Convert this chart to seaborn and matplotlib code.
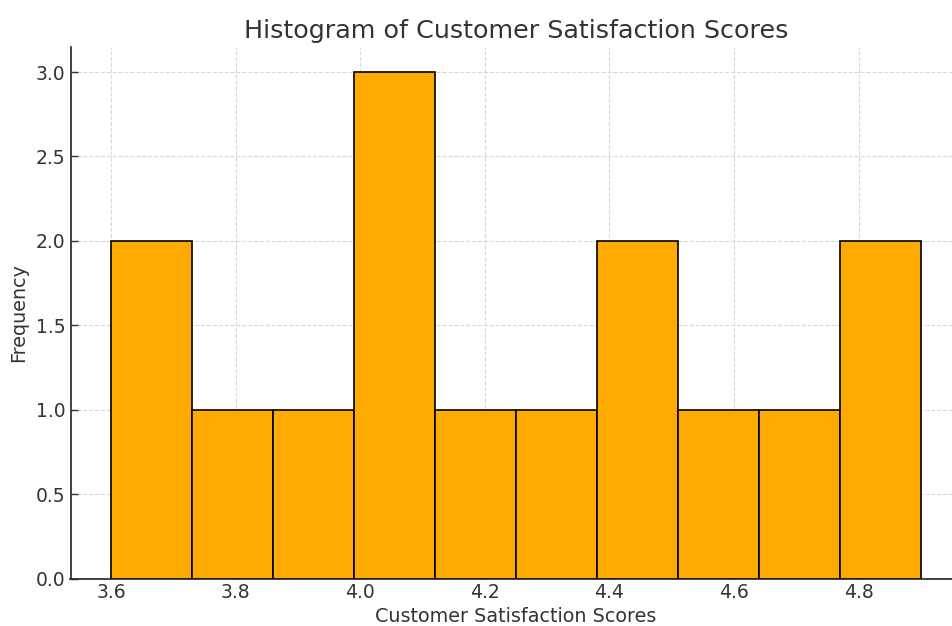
import matplotlib
matplotlib.use("Agg")
import matplotlib.pyplot as plt
import seaborn as sns
import numpy as np

scores = [4.5, 4.0, 3.8, 4.2, 4.8, 3.6, 4.1, 4.4, 4.7, 3.9, 4.05, 4.3, 4.9, 3.7, 4.6]
n_bins = 10
title = "Histogram of Customer Satisfaction Scores"
xlabel = "Customer Satisfaction Scores"
ylabel = "Frequency"

sns.set_style("white")
plt.rcParams['font.family'] = ['DejaVu Sans']
plt.rcParams['text.color'] = '#333333'
plt.rcParams['axes.labelcolor'] = '#333333'
plt.rcParams['xtick.color'] = '#333333'
plt.rcParams['ytick.color'] = '#333333'

fig = plt.figure(figsize=(9.52, 6.26), dpi=100)
ax = fig.add_axes([70.5/952, 47.5/626, 891/952, 531.8/626])

sns.histplot(x=scores, bins=n_bins, color='#FFAA00', edgecolor='black',
             linewidth=1.2, alpha=1.0, ax=ax)

ax.set_title(title, fontsize=18.3, color='#333333', pad=6)
ax.set_xlabel(xlabel, fontsize=13.8, labelpad=3)
ax.set_ylabel(ylabel, fontsize=13.8, labelpad=6)
ax.set_yticks([0, 0.5, 1.0, 1.5, 2.0, 2.5, 3.0])
ax.set_xticks([3.6, 3.8, 4.0, 4.2, 4.4, 4.6, 4.8])
ax.yaxis.set_major_formatter(matplotlib.ticker.FormatStrFormatter('%.1f'))
ax.tick_params(axis='both', direction='in', labelsize=13.5, length=5, width=1, bottom=True, left=True)
ax.grid(True, linestyle='--', color='#d8d8d8', linewidth=0.8)
ax.set_axisbelow(True)
sns.despine(ax=ax, top=True, right=True)
for s in ['left', 'bottom']:
    ax.spines[s].set_color('#222222')
    ax.spines[s].set_linewidth(1.2)

fig.savefig("out.png", dpi=100)
